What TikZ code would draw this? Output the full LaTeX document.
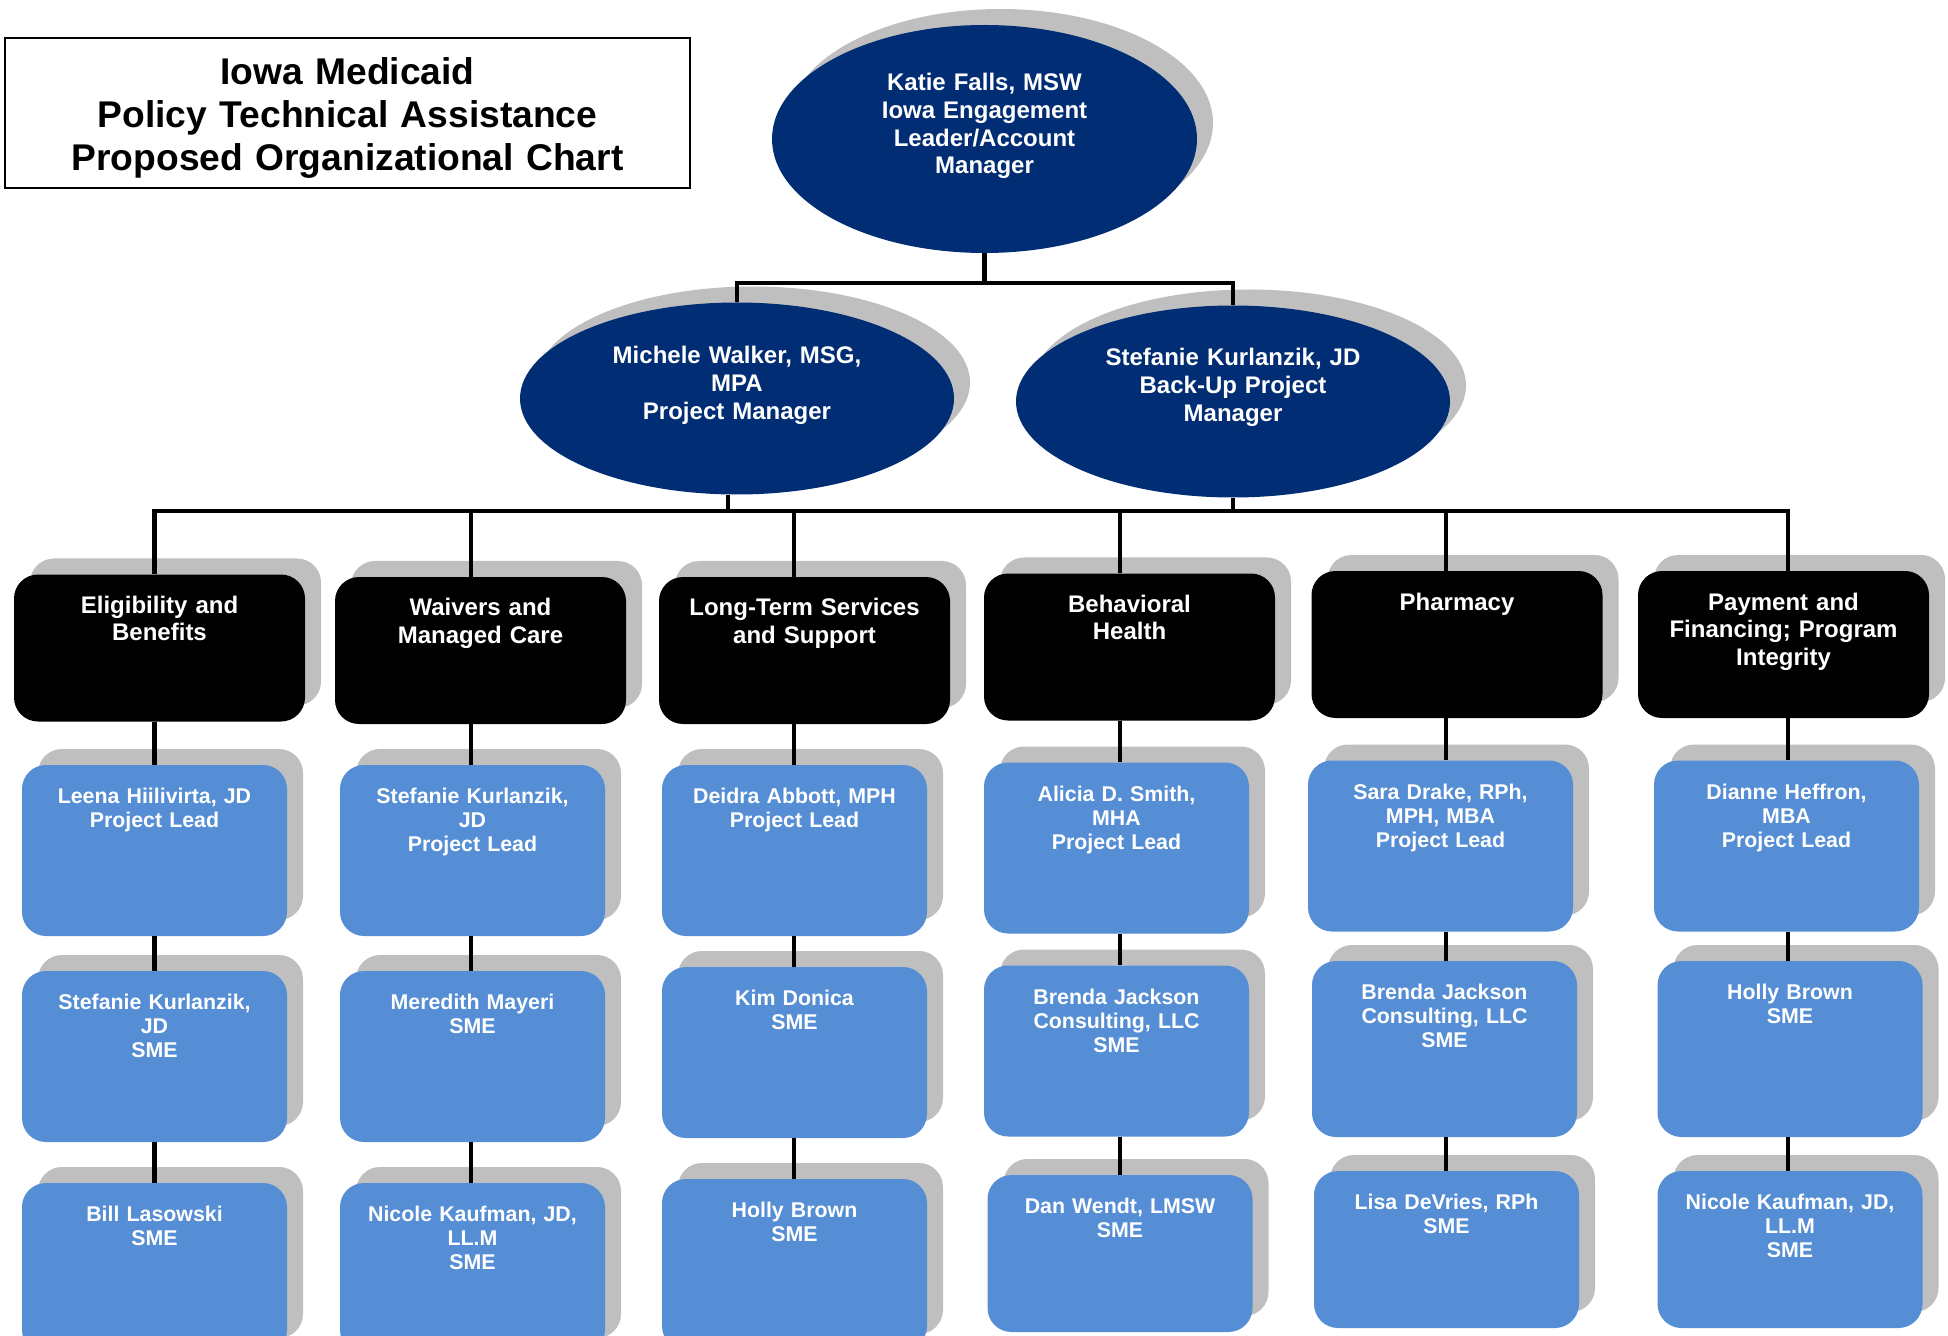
\documentclass[tikz,border=0pt]{standalone}
\usepackage{fontspec}
\setmainfont{Liberation Sans}
\usetikzlibrary{shapes.geometric,shadows}
\definecolor{navy}{HTML}{002D73}
\definecolor{boxblue}{HTML}{558ED5}
\definecolor{shade}{HTML}{BFBFBF}
\begin{document}
\begin{tikzpicture}[x=0.5pt,y=-0.5pt,
  shad/.style={general shadow={fill=shade,shadow xshift=8pt,shadow yshift=8pt}},
  oval/.style={ellipse,fill=navy,inner sep=0pt,shad},
  catbox/.style={rectangle,rounded corners=12pt,fill=black,inner sep=0pt,minimum width=145.5pt,minimum height=73.5pt,shad},
  memberbox/.style={rectangle,rounded corners=12pt,fill=boxblue,inner sep=0pt,minimum width=132.5pt,minimum height=85.5pt,shad},
  titletext/.style={text=black,anchor=base,align=center,text width=330pt,inner sep=0pt,font=\fontsize{18.6}{21.3}\selectfont\bfseries},
  bigtext/.style={text=white,anchor=base,align=center,text width=200pt,inner sep=0pt,font=\fontsize{12}{13.9}\selectfont\bfseries},
  cattext/.style={text=white,anchor=base,align=center,text width=140pt,inner sep=0pt,font=\fontsize{12}{13.75}\selectfont\bfseries},
  memtext/.style={text=white,anchor=base,align=center,text width=128pt,inner sep=0pt,font=\fontsize{10.67}{12}\selectfont\bfseries},
  conn/.style={line width=2.25pt,black},
]
\useasboundingbox (0,0) rectangle (1948,1336);
\clip (0,0) rectangle (1948,1336);

% title
\node[draw,line width=1pt,minimum width=342.5pt,minimum height=75pt,inner sep=0pt] (title) at (347.5,113) {};
\node[titletext] (titlet) at ([yshift=-24pt]title.north)
  {Iowa Medicaid\\Policy Technical Assistance\\Proposed Organizational Chart};

% ellipses
\node[oval,minimum width=212.5pt,minimum height=114pt] (E0) at (984.5,139) {};
\node[bigtext] (E0t) at ([yshift=-33pt]E0.north) {Katie Falls, MSW\\Iowa Engagement\\Leader/Account\\Manager};
\node[oval,minimum width=217pt,minimum height=96pt] (E1) at (737,398.5) {};
\node[bigtext] (E1t) at ([yshift=-30.75pt]E1.north) {Michele Walker, MSG,\\MPA\\Project Manager};
\node[oval,minimum width=217pt,minimum height=96pt] (E2) at (1233,401.5) {};
\node[bigtext] (E2t) at ([yshift=-30.25pt]E2.north) {Stefanie Kurlanzik, JD\\Back-Up Project\\Manager};

% category boxes
\node[catbox] (C1) at (159.5,648) {};
\node[catbox] (C2) at (480.5,650.5) {};
\node[catbox] (C3) at (804.5,650.5) {};
\node[catbox] (C4) at (1129.5,647) {};
\node[catbox] (C5) at (1457,644.5) {};
\node[catbox] (C6) at (1783.5,644.5) {};
\node[cattext] (C1t) at ([yshift=-19.5pt]C1.north) {Eligibility and\\Benefits};
\node[cattext] (C2t) at ([yshift=-19.5pt]C2.north) {Waivers and\\Managed Care};
\node[cattext] (C3t) at ([yshift=-19.5pt]C3.north) {Long-Term Services\\and Support};
\node[cattext] (C4t) at ([yshift=-19.5pt]C4.north) {Behavioral\\Health};
\node[cattext] (C5t) at ([yshift=-19.75pt]C5.north) {Pharmacy};
\node[cattext] (C6t) at ([yshift=-19.75pt]C6.north) {Payment and\\Financing; Program\\Integrity};

% member boxes
\node[memberbox] (M11) at (154.5,850.5) {};
\node[memberbox] (M12) at (154.5,1056.5) {};
\node[memberbox] (M13) at (154.5,1268.5) {};
\node[memberbox] (M21) at (472.5,850.5) {};
\node[memberbox] (M22) at (472.5,1056.5) {};
\node[memberbox] (M23) at (472.5,1268.5) {};
\node[memberbox] (M31) at (794.5,850.5) {};
\node[memberbox] (M32) at (794.5,1052.5) {};
\node[memberbox] (M33) at (794.5,1264.5) {};
\node[memberbox] (M41) at (1116.5,848) {};
\node[memberbox] (M42) at (1116.5,1051) {};
\node[memberbox,minimum height=78.5pt] (M43) at (1120,1253.5) {};
\node[memberbox] (M51) at (1440.5,846) {};
\node[memberbox,minimum height=88pt] (M52) at (1444.5,1049) {};
\node[memberbox,minimum height=78.5pt] (M53) at (1446.5,1249.5) {};
\node[memberbox] (M61) at (1786.5,846) {};
\node[memberbox,minimum height=88pt] (M62) at (1790,1049) {};
\node[memberbox,minimum height=78.5pt] (M63) at (1790,1249.5) {};

\node[memtext] (M11t) at ([yshift=-19.5pt]M11.north) {Leena Hiilivirta, JD\\Project Lead};
\node[memtext] (M12t) at ([yshift=-19.5pt]M12.north) {Stefanie Kurlanzik,\\JD\\SME};
\node[memtext] (M13t) at ([yshift=-19.5pt]M13.north) {Bill Lasowski\\SME};
\node[memtext] (M21t) at ([yshift=-19.5pt]M21.north) {Stefanie Kurlanzik,\\JD\\Project Lead};
\node[memtext] (M22t) at ([yshift=-19.5pt]M22.north) {Meredith Mayeri\\SME};
\node[memtext] (M23t) at ([yshift=-19.5pt]M23.north) {Nicole Kaufman, JD,\\LL.M\\SME};
\node[memtext] (M31t) at ([yshift=-19.5pt]M31.north) {Deidra Abbott, MPH\\Project Lead};
\node[memtext] (M32t) at ([yshift=-19.5pt]M32.north) {Kim Donica\\SME};
\node[memtext] (M33t) at ([yshift=-19.5pt]M33.north) {Holly Brown\\SME};
\node[memtext] (M41t) at ([yshift=-19.5pt]M41.north) {Alicia D. Smith,\\MHA\\Project Lead};
\node[memtext] (M42t) at ([yshift=-19.5pt]M42.north) {Brenda Jackson\\Consulting, LLC\\SME};
\node[memtext] (M43t) at ([yshift=-19.5pt]M43.north) {Dan Wendt, LMSW\\SME};
\node[memtext] (M51t) at ([yshift=-19.5pt]M51.north) {Sara Drake, RPh,\\MPH, MBA\\Project Lead};
\node[memtext] (M52t) at ([yshift=-19.5pt]M52.north) {Brenda Jackson\\Consulting, LLC\\SME};
\node[memtext] (M53t) at ([yshift=-19.5pt]M53.north) {Lisa DeVries, RPh\\SME};
\node[memtext] (M61t) at ([yshift=-19.5pt]M61.north) {Dianne Heffron,\\MBA\\Project Lead};
\node[memtext] (M62t) at ([yshift=-19.5pt]M62.north) {Holly Brown\\SME};
\node[memtext] (M63t) at ([yshift=-19.5pt]M63.north) {Nicole Kaufman, JD,\\LL.M\\SME};

% connectors
\coordinate (bus1) at (0,283);
\coordinate (k1) at (154.5,511);
\coordinate (k2) at (471,511);
\coordinate (k3) at (794,511);
\coordinate (k4) at (1120,511);
\coordinate (k5) at (1446,511);
\coordinate (k6) at (1788,511);

\draw[conn] (E0.south) -- (E0.south |- bus1);
\draw[conn] (E1.north) -- (E1.north |- bus1) -- (E2.north |- bus1) -- (E2.north);
\draw[conn] ([xshift=-4.5pt]E1.south) -- ([xshift=-4.5pt]E1.south |- k1);
\draw[conn] (E2.south) -- (E2.south |- k1);
\draw[conn] ([xshift=-1.1pt]k1) -- ([xshift=1.1pt]k6);

\draw[conn] (k1) -- (k1 |- C1.north) (C1.south -| k1) -- (M11.north -| k1)
  (M11.south -| k1) -- (M12.north -| k1) (M12.south -| k1) -- (M13.north -| k1);
\draw[conn] (k2) -- (k2 |- C2.north) (C2.south -| k2) -- (M21.north -| k2)
  (M21.south -| k2) -- (M22.north -| k2) (M22.south -| k2) -- (M23.north -| k2);
\draw[conn] (k3) -- (k3 |- C3.north) (C3.south -| k3) -- (M31.north -| k3)
  (M31.south -| k3) -- (M32.north -| k3) (M32.south -| k3) -- (M33.north -| k3);
\draw[conn] (k4) -- (k4 |- C4.north) (C4.south -| k4) -- (M41.north -| k4)
  (M41.south -| k4) -- (M42.north -| k4) (M42.south -| k4) -- (M43.north -| k4);
\draw[conn] (k5) -- (k5 |- C5.north) (C5.south -| k5) -- (M51.north -| k5)
  (M51.south -| k5) -- (M52.north -| k5) (M52.south -| k5) -- (M53.north -| k5);
\draw[conn] (k6) -- (k6 |- C6.north) (C6.south -| k6) -- (M61.north -| k6)
  (M61.south -| k6) -- (M62.north -| k6) (M62.south -| k6) -- (M63.north -| k6);
\end{tikzpicture}
\end{document}
